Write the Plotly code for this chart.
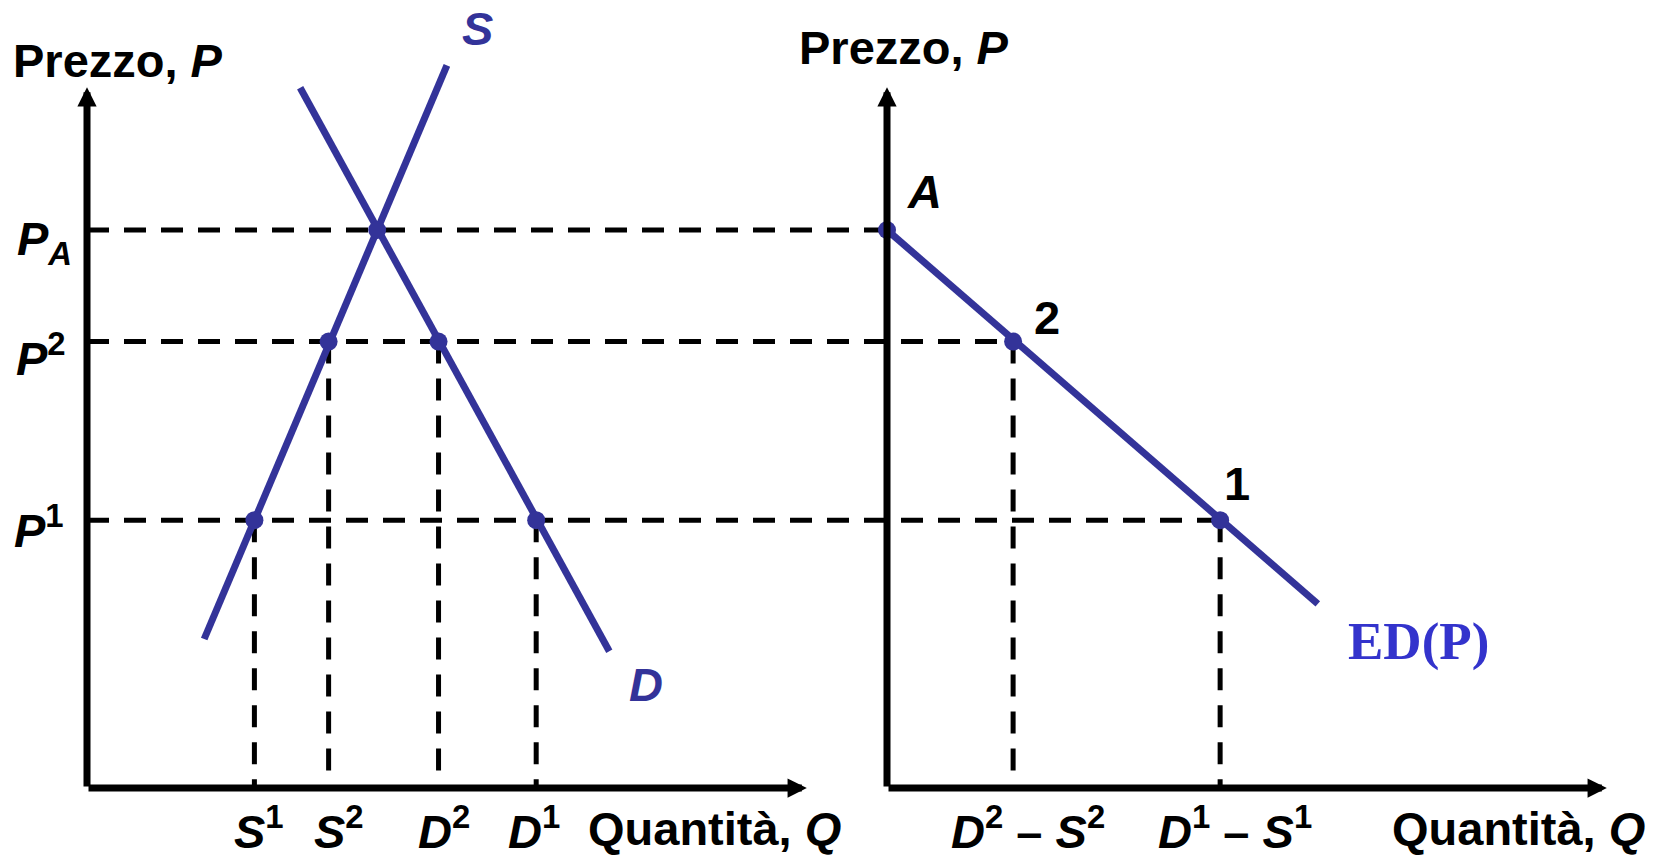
import plotly.graph_objects as go

# ---------------- data (model units) ----------------
P_A = 10.0          # autarky price
P2 = 8.0            # world price 2
P1 = 4.8            # world price 1
Q_A = 5.2           # autarky quantity

S1, S2 = 3.0, 4.33  # supply at P1, P2
D2, D1 = 6.3, 8.05  # demand at P2, P1

SUPPLY_Q = [2.1, 6.45]
SUPPLY_P = [2.67, 12.95]
DEMAND_Q = [3.82, 9.36]
DEMAND_P = [12.55, 2.45]

LEFT_POINT_Q = [Q_A, S2, D2, S1, D1]
LEFT_POINT_P = [P_A, P2, P2, P1, P1]

ED_LINE_Q = [0.0, 7.72]
ED_LINE_P = [10.0, 3.3]
ED_POINT_Q = [0.0, 2.26, 5.97]
ED_POINT_P = [P_A, P2, P1]
ED_POINT_LABELS = ["<b><i>A</i></b>", "<b>2</b>", "<b>1</b>"]

AXIS_Q_MAX = 12.9
AXIS_P_MAX = 12.56

# ---------------- layout geometry (pixels) ----------------
W, H = 1656, 857
PX = 55.8                 # pixels per model unit
OX_L, OX_R, OY = 87, 887, 788
SHIFT = (OX_R - OX_L) / PX  # right-panel origin expressed on left axis

BLUE = "#333399"
ED_BLUE = "#3333CC"
FONT = "Liberation Sans, Arial, sans-serif"
SERIF = "Liberation Serif, Times New Roman, serif"
FS = 47

DASH = dict(color="black", width=5, dash="22px,15px")

fig = go.Figure()

# horizontal dashed price lines (left axis to right-panel point)
for p, q_ed in zip(ED_POINT_P, ED_POINT_Q):
    fig.add_trace(go.Scatter(x=[0, SHIFT + q_ed], y=[p, p], mode="lines",
                             line=DASH, xaxis="x", yaxis="y", hoverinfo="skip"))
# vertical dashed lines, left panel
for q, p in zip([S1, S2, D2, D1], [P1, P2, P2, P1]):
    fig.add_trace(go.Scatter(x=[q, q], y=[p, 0], mode="lines", line=DASH,
                             xaxis="x", yaxis="y", hoverinfo="skip"))
# vertical dashed lines, right panel
for q, p in zip(ED_POINT_Q[1:], ED_POINT_P[1:]):
    fig.add_trace(go.Scatter(x=[q, q], y=[p, 0], mode="lines", line=DASH,
                             xaxis="x2", yaxis="y", hoverinfo="skip"))

# curves
fig.add_trace(go.Scatter(x=SUPPLY_Q, y=SUPPLY_P, mode="lines",
                         line=dict(color=BLUE, width=7), xaxis="x", yaxis="y"))
fig.add_trace(go.Scatter(x=DEMAND_Q, y=DEMAND_P, mode="lines",
                         line=dict(color=BLUE, width=7), xaxis="x", yaxis="y"))
fig.add_trace(go.Scatter(x=ED_LINE_Q, y=ED_LINE_P, mode="lines",
                         line=dict(color=BLUE, width=7), xaxis="x2", yaxis="y"))
# points
fig.add_trace(go.Scatter(x=LEFT_POINT_Q, y=LEFT_POINT_P, mode="markers",
                         marker=dict(color=BLUE, size=18), xaxis="x", yaxis="y"))
fig.add_trace(go.Scatter(x=ED_POINT_Q, y=ED_POINT_P, mode="markers",
                         marker=dict(color=BLUE, size=18), xaxis="x2", yaxis="y"))

annotations = []
# axes with arrow heads
for xr in ["x", "x2"]:
    annotations.append(dict(x=0, y=AXIS_P_MAX, ax=0, ay=0, xref=xr, yref="y",
                            axref=xr, ayref="y", text="", showarrow=True,
                            arrowhead=2, arrowsize=0.55, arrowwidth=7,
                            arrowcolor="black"))
    annotations.append(dict(x=AXIS_Q_MAX, y=0, ax=0, ay=0, xref=xr, yref="y",
                            axref=xr, ayref="y", text="", showarrow=True,
                            arrowhead=2, arrowsize=0.55, arrowwidth=7,
                            arrowcolor="black"))


def label(text, px, py, xanchor="center", color="black", size=FS, family=FONT):
    annotations.append(dict(text=text, x=px / W, y=1 - py / H, xref="paper",
                            yref="paper", xanchor=xanchor, yanchor="middle",
                            showarrow=False,
                            font=dict(color=color, size=size, family=family)))


label("<b>Prezzo, <i>P</i></b>", 11, 60, "left")
label("<b>Prezzo, <i>P</i></b>", 797, 48, "left")
label("<b><i>S</i></b>", 477, 28, color=BLUE)
label("<b><i>D</i></b>", 646, 684, color=BLUE)
label("<b>ED(P)</b>", 1346, 641, "left", color=ED_BLUE, size=53, family=SERIF)
for t, (cx, cy) in zip(ED_POINT_LABELS, [(924, 191), (1047, 317), (1237, 483)]):
    label(t, cx, cy)
label("<b><i>P</i><sub><i>A</i></sub></b>", 74, 242, "right")
label("<b><i>P</i><sup>2</sup></b>", 68, 355, "right")
label("<b><i>P</i><sup>1</sup></b>", 66, 527, "right")
label("<b><i>S</i><sup>1</sup></b>", 259, 828)
label("<b><i>S</i><sup>2</sup></b>", 339, 828)
label("<b><i>D</i><sup>2</sup></b>", 444, 828)
label("<b><i>D</i><sup>1</sup></b>", 534, 828)
label("<b>Quantità, <i>Q</i></b>", 586, 828, "left")
label("<b><i>D</i><sup>2</sup> – <i>S</i><sup>2</sup></b>", 1028, 828)
label("<b><i>D</i><sup>1</sup> – <i>S</i><sup>1</sup></b>", 1235, 828)
label("<b>Quantità, <i>Q</i></b>", 1390, 828, "left")

fig.update_layout(
    width=W, height=H, margin=dict(l=0, r=0, t=0, b=0),
    paper_bgcolor="white", plot_bgcolor="white", showlegend=False,
    xaxis=dict(domain=[0, 1], range=[-OX_L / PX, (W - OX_L) / PX], visible=False,
               fixedrange=True),
    xaxis2=dict(domain=[0, 1], range=[-OX_R / PX, (W - OX_R) / PX], visible=False,
                overlaying="x", anchor="y", fixedrange=True),
    yaxis=dict(domain=[0, 1], range=[-(H - OY) / PX, OY / PX], visible=False,
               fixedrange=True),
    annotations=annotations,
)

fig.write_html("out.html", config={"displayModeBar": False},
               post_script="document.body.style.margin='0';")
